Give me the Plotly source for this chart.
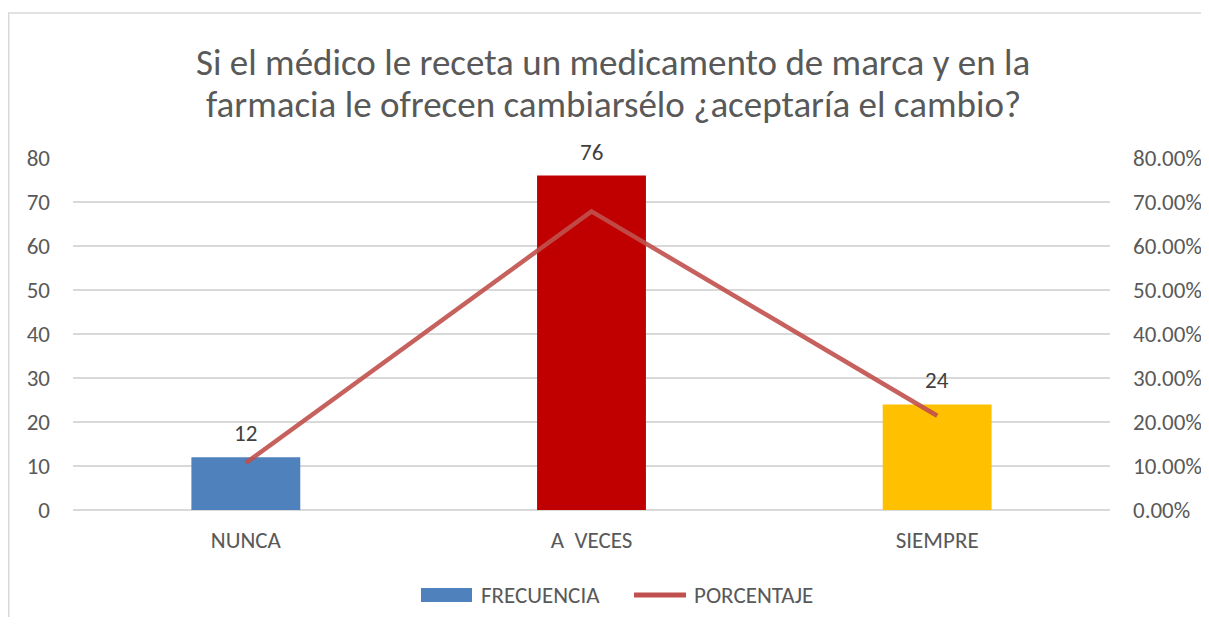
import plotly.graph_objects as go

categories = ["NUNCA", "A  VECES", "SIEMPRE"]
frecuencia = [12, 76, 24]
porcentaje = [0.1071, 0.6786, 0.2143]
bar_colors = ["#4F81BD", "#C00000", "#FFC000"]
y_ticks = [0, 10, 20, 30, 40, 50, 60, 70, 80]
y2_ticks = [0, 0.1, 0.2, 0.3, 0.4, 0.5, 0.6, 0.7, 0.8]
title_lines = ["Si el médico le receta un medicamento de marca y en la",
               "farmacia le ofrecen cambiarsélo ¿aceptaría el cambio?"]

FONT = "Carlito, Calibri, Lato, sans-serif"
GREY = "#595959"
FS = 23

# screen geometry of the plot area (page has an 8px body margin)
PL, PR, PT, PB = 73, 1110, 158, 510
W, H = 1193, 609


def px(sx):
    return (sx - PL) / (PR - PL)


def py(sy):
    return (PB - sy) / (PB - PT)


fig = go.Figure()
fig.add_trace(go.Bar(
    x=categories, y=frecuencia, name="FRECUENCIA",
    marker=dict(color=bar_colors, line=dict(width=0)),
    width=0.315, showlegend=False,
))
fig.add_trace(go.Scatter(
    x=categories, y=porcentaje, name="PORCENTAJE", yaxis="y2",
    mode="lines", line=dict(color="#C0504D", width=4.5),
    opacity=0.9, showlegend=False,
))

annotations = []
for c, v in zip(categories, frecuencia):
    annotations.append(dict(x=c, y=v, xref="x", yref="y", text=str(v), showarrow=False,
                            yanchor="middle", yshift=24,
                            font=dict(size=FS, color="#404040", family=FONT)))
for i, t in enumerate(title_lines):
    annotations.append(dict(x=px(613), y=py(62 + 42 * i), xref="paper", yref="paper",
                            text=t, showarrow=False, xanchor="center", yanchor="middle",
                            font=dict(size=37, color=GREY, family=FONT)))
annotations.append(dict(x=px(479), y=py(595), xref="paper", yref="paper", text="FRECUENCIA",
                        showarrow=False, xanchor="left", yanchor="middle",
                        font=dict(size=FS, color=GREY, family=FONT)))
annotations.append(dict(x=px(692), y=py(595), xref="paper", yref="paper", text="PORCENTAJE",
                        showarrow=False, xanchor="left", yanchor="middle",
                        font=dict(size=FS, color=GREY, family=FONT)))

shapes = [
    dict(type="rect", xref="paper", yref="paper",
         x0=px(8.75), x1=1.5, y0=-1.0, y1=py(13),
         line=dict(color="#D9D9D9", width=1.5), fillcolor="rgba(0,0,0,0)", layer="below"),
    dict(type="rect", xref="paper", yref="paper",
         x0=px(421), x1=px(472), y0=py(602), y1=py(588),
         line=dict(width=0), fillcolor="#4F81BD"),
    dict(type="line", xref="paper", yref="paper",
         x0=px(634), x1=px(686), y0=py(595), y1=py(595),
         line=dict(color="#C0504D", width=5)),
]

fig.update_layout(
    width=W, height=H,
    paper_bgcolor="white", plot_bgcolor="white",
    margin=dict(l=PL - 8, r=(W + 8) - PR, t=PT - 8, b=(H + 8) - PB, autoexpand=False),
    font=dict(family=FONT, color=GREY, size=FS),
    xaxis=dict(showline=False, ticks="", tickfont=dict(size=FS, color=GREY),
               ticklabelstandoff=14),
    yaxis=dict(range=[0, 80], tickvals=y_ticks, showgrid=True, gridcolor="#D9D9D9",
               gridwidth=1.5, zeroline=True, zerolinecolor="#D9D9D9", zerolinewidth=1.5,
               ticks="", tickfont=dict(size=FS, color=GREY), ticklabelstandoff=22),
    yaxis2=dict(range=[0, 0.8], tickvals=y2_ticks, tickformat=".2%", overlaying="y",
                side="right", showgrid=False, zeroline=False, ticks="",
                tickfont=dict(size=FS, color=GREY), ticklabelstandoff=22),
    showlegend=False,
    annotations=annotations,
    shapes=shapes,
)

fig.write_html("out.html")
